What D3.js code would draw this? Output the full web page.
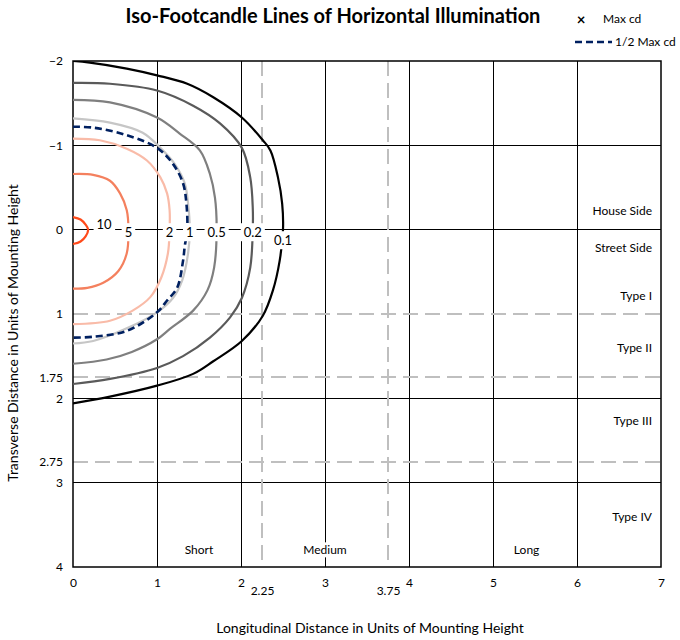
<!DOCTYPE html>
<html>
<head>
<meta charset="utf-8">
<script src="https://cdn.jsdelivr.net/npm/d3@7"></script>
<style>
  html, body { margin: 0; padding: 0; background: #fff; }
  svg { display: block; font-family: Lato, "Open Sans", sans-serif; }
</style>
</head>
<body>
<svg id="chart" width="680" height="640"></svg>
<script>
// ---------------- data ----------------
const xTicks = [0, 1, 2, 3, 4, 5, 6, 7];
const xTicksExtra = [2.25, 3.75];
const yTicks = [-2, -1, 0, 1, 1.75, 2, 2.75, 3, 4];
const ySolidGrid = [-1, 0, 2, 3];
const yDashedGrid = [1, 1.75, 2.75];
const xSolidGrid = [1, 2, 3, 4, 5, 6];
const xDashedGrid = [2.25, 3.75];

const contourLevels = ["10", "5", "2", "1", "0.5", "0.2", "0.1"];
const contourColors = ["#FF4A1A", "#F4805E", "#F9BBA8", "#C6C6C6", "#7F7F7F", "#5A5A5A", "#000000"];

const fc10 = [[0,-0.15],[0.09,-0.12],[0.15,-0.06],[0.18,0],[0.15,0.08],[0.09,0.14],[0,0.17]];
const fc5 = [[0,-0.66],[0.24,-0.65],[0.44,-0.58],[0.56,-0.43],[0.64,-0.23],[0.66,0],[0.64,0.28],[0.54,0.49],[0.36,0.63],[0.17,0.69],[0,0.70]];
const fc2 = [[0,-1.08],[0.32,-1.06],[0.64,-0.96],[0.88,-0.82],[1.04,-0.62],[1.12,-0.43],[1.15,-0.23],[1.15,0],[1.13,0.28],[1.05,0.57],[0.92,0.80],[0.71,0.96],[0.44,1.08],[0,1.12]];
const fc1 = [[0,-1.32],[0.44,-1.27],[0.83,-1.15],[1.04,-0.97],[1.21,-0.78],[1.33,-0.55],[1.37,-0.31],[1.39,0],[1.37,0.28],[1.30,0.60],[1.19,0.81],[1.0,0.98],[0.64,1.17],[0.24,1.32],[0,1.35]];
const fc05 = [[0,-1.54],[0.44,-1.51],[1.0,-1.33],[1.27,-1.14],[1.51,-0.94],[1.63,-0.66],[1.69,-0.38],[1.71,0],[1.68,0.45],[1.60,0.72],[1.43,0.96],[1.15,1.18],[1.0,1.30],[0.7,1.45],[0.4,1.54],[0,1.59]];
const fc02 = [[0,-1.74],[0.44,-1.73],[1.0,-1.65],[1.43,-1.47],[1.75,-1.26],[2.01,-0.97],[2.11,-0.62],[2.14,-0.26],[2.14,0],[2.11,0.45],[2.01,0.81],[1.87,1.04],[1.63,1.28],[1.31,1.50],[1.0,1.64],[0.44,1.77],[0,1.83]];
const fc01 = [[0,-2.0],[0.2,-1.98],[0.64,-1.91],[1.0,-1.83],[1.36,-1.73],[1.67,-1.57],[2.01,-1.33],[2.26,-1.06],[2.35,-0.94],[2.44,-0.62],[2.49,-0.31],[2.50,0],[2.46,0.37],[2.38,0.72],[2.26,1.02],[2.01,1.32],[1.67,1.56],[1.43,1.71],[1.0,1.85],[0.44,1.98],[0,2.06]];
const halfMaxCd = [[0,-1.22],[0.24,-1.21],[0.64,-1.12],[1.0,-0.97],[1.19,-0.78],[1.31,-0.55],[1.35,-0.31],[1.36,0],[1.33,0.20],[1.31,0.37],[1.24,0.69],[1.12,0.84],[1.0,0.98],[0.64,1.20],[0.24,1.27],[0,1.28]];
const contours = [fc10, fc5, fc2, fc1, fc05, fc02, fc01];

const sideLabels = ["House Side", "Street Side", "Type I", "Type II", "Type III", "Type IV"];
const sideLabelY = [-0.22, 0.21, 0.78, 1.4, 2.27, 3.4];
const rangeLabels = ["Short", "Medium", "Long"];
const rangeLabelX = [1.5, 3.0, 5.4];

// ---------------- layout ----------------
const svg = d3.select("#chart");
const x = d3.scaleLinear().domain([0, 7]).range([73, 661]);
const y = d3.scaleLinear().domain([-2, 4]).range([61, 567]);

svg.append("defs").append("clipPath").attr("id", "plotclip")
  .append("rect").attr("x", x(0)).attr("y", y(-2)).attr("width", x(7) - x(0)).attr("height", y(4) - y(-2));

const grid = svg.append("g").attr("shape-rendering", "crispEdges");
grid.selectAll(".vs").data(xSolidGrid).join("line")
  .attr("x1", d => x(d)).attr("x2", d => x(d)).attr("y1", y(-2)).attr("y2", y(4))
  .attr("stroke", "#000").attr("stroke-width", 1);
grid.selectAll(".hs").data(ySolidGrid).join("line")
  .attr("x1", x(0)).attr("x2", x(7)).attr("y1", d => y(d)).attr("y2", d => y(d))
  .attr("stroke", "#000").attr("stroke-width", 1);
grid.selectAll(".hd").data(yDashedGrid).join("line")
  .attr("x1", x(0)).attr("x2", x(7)).attr("y1", d => y(d)).attr("y2", d => y(d))
  .attr("stroke", "#BFBFBF").attr("stroke-width", 2).attr("stroke-dasharray", "15,7");
grid.selectAll(".vd").data(xDashedGrid).join("line")
  .attr("x1", d => x(d)).attr("x2", d => x(d)).attr("y1", y(-2)).attr("y2", y(4))
  .attr("stroke", "#BFBFBF").attr("stroke-width", 2).attr("stroke-dasharray", "15,7");

// frame
svg.append("rect").attr("x", x(0)).attr("y", y(-2)).attr("width", x(7) - x(0)).attr("height", y(4) - y(-2))
  .attr("fill", "none").attr("stroke", "#000").attr("stroke-width", 1.5);

// contours
const line = d3.line().x(d => x(d[0])).y(d => y(d[1])).curve(d3.curveCatmullRom.alpha(0.5));
const cg = svg.append("g").attr("clip-path", "url(#plotclip)");
cg.selectAll(".contour").data(contours).join("path")
  .attr("d", d => line(d)).attr("fill", "none")
  .attr("stroke", (d, i) => contourColors[i]).attr("stroke-width", 2.2);
cg.append("path").attr("d", line(halfMaxCd)).attr("fill", "none")
  .attr("stroke", "#002060").attr("stroke-width", 2.6).attr("stroke-dasharray", "7,4");

// contour labels (at the point where each contour crosses y = 0)
const labelG = svg.append("g").attr("font-size", 13).attr("fill", "#000");
contours.forEach((c, i) => {
  const tip = c.find(d => d[1] === 0);
  let dx = 0, dy = 3;
  if (i === 0) { dx = 16; dy = -5; }
  if (i === 6) { dy = 11; }
  const g = labelG.append("g").attr("transform", `translate(${x(tip[0]) + dx},${y(tip[1]) + dy})`);
  const t = g.append("text").attr("text-anchor", "middle").attr("dy", "0.35em").text(contourLevels[i]);
  const bb = t.node().getBBox();
  g.insert("rect", "text").attr("x", bb.x - 3).attr("y", bb.y - 1).attr("width", bb.width + 6).attr("height", bb.height + 2).attr("fill", "#fff");
});

// side labels
const sg = svg.append("g").attr("font-size", 12);
sideLabels.forEach((s, i) => {
  sg.append("text").attr("x", x(7) - 9).attr("y", y(sideLabelY[i])).attr("text-anchor", "end").attr("dy", "0.35em").text(s);
});
rangeLabels.forEach((s, i) => {
  const g = sg.append("g").attr("transform", `translate(${x(rangeLabelX[i])},${y(3.8)})`);
  const t = g.append("text").attr("text-anchor", "middle").attr("dy", "0.35em").text(s);
  const bb = t.node().getBBox();
  g.insert("rect", "text").attr("x", bb.x - 2).attr("y", bb.y).attr("width", bb.width + 4).attr("height", bb.height).attr("fill", "#fff");
});

// axes
const fmt = d3.format("");
const yAxis = svg.append("g").attr("transform", `translate(${x(0)},0)`)
  .call(d3.axisLeft(y).tickValues(yTicks).tickSize(0).tickPadding(10).tickFormat(fmt));
yAxis.select(".domain").remove();
yAxis.selectAll("text").attr("font-size", 12).attr("font-family", "Lato, sans-serif");

const xAxis = svg.append("g").attr("transform", `translate(0,${y(4)})`)
  .call(d3.axisBottom(x).tickValues(xTicks).tickSize(0).tickPadding(11).tickFormat(fmt));
xAxis.select(".domain").remove();
xAxis.selectAll("text").attr("font-size", 12).attr("font-family", "Lato, sans-serif");

const xAxis2 = svg.append("g").attr("transform", `translate(0,${y(4)})`)
  .call(d3.axisBottom(x).tickValues(xTicksExtra).tickSize(0).tickPadding(19).tickFormat(fmt));
xAxis2.select(".domain").remove();
xAxis2.selectAll("text").attr("font-size", 12).attr("font-family", "Lato, sans-serif");

// titles
svg.append("text").attr("x", 333).attr("y", 23).attr("text-anchor", "middle")
  .attr("font-size", 20).attr("font-weight", "bold").text("Iso-Footcandle Lines of Horizontal Illumination");
svg.append("text").attr("x", 370).attr("y", 633).attr("text-anchor", "middle")
  .attr("font-size", 14).text("Longitudinal Distance in Units of Mounting Height");
svg.append("text").attr("transform", "translate(18,333) rotate(-90)").attr("text-anchor", "middle")
  .attr("font-size", 14).text("Transverse Distance in Units of Mounting Height");

// legend
const lg = svg.append("g").attr("font-size", 12);
lg.append("text").attr("x", 581).attr("y", 20).attr("text-anchor", "middle").attr("dy", "0.35em")
  .attr("font-size", 15).attr("font-weight", "bold").text("×");
lg.append("text").attr("x", 603).attr("y", 19).attr("dy", "0.35em").text("Max cd");
lg.append("line").attr("x1", 575).attr("x2", 612).attr("y1", 42).attr("y2", 42)
  .attr("stroke", "#002060").attr("stroke-width", 2.6).attr("stroke-dasharray", "7,4");
lg.append("text").attr("x", 615).attr("y", 42).attr("dy", "0.35em").text("1/2 Max cd");
</script>
</body>
</html>
